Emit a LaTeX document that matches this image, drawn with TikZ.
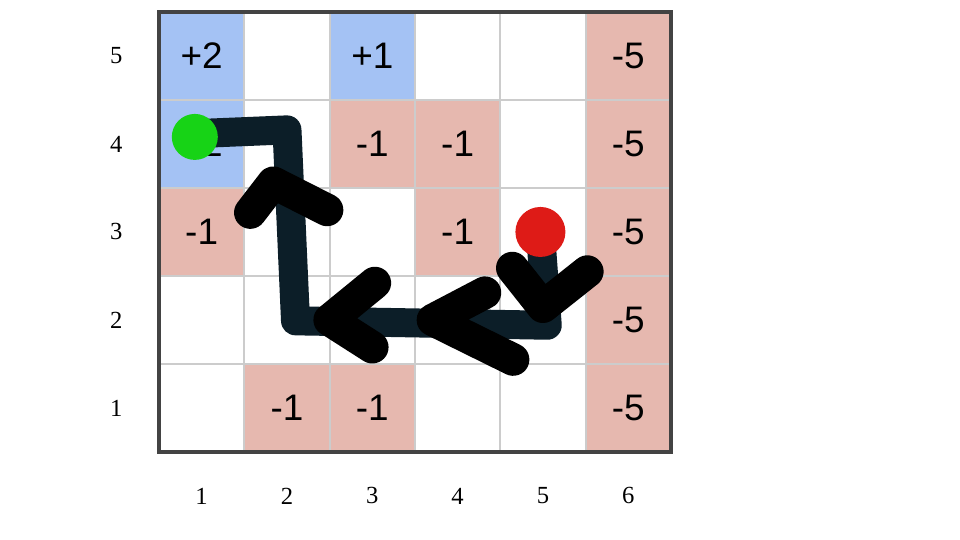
\documentclass[tikz,border=0pt]{standalone}
\usepackage{fontspec}
\setmainfont{Liberation Serif}
\newfontfamily\cellfont{Liberation Sans}
\usetikzlibrary{arrows.meta,positioning,calc}
\definecolor{goodcell}{HTML}{A4C2F4}
\definecolor{badcell}{HTML}{E6B8AF}
\definecolor{gridline}{HTML}{CCCCCC}
\definecolor{gridframe}{HTML}{434343}
\definecolor{pathink}{HTML}{0C1E28}
\definecolor{startred}{HTML}{DE1B17}
\definecolor{goalgreen}{HTML}{17D316}
\tikzset{
  cellbox/.style={minimum width=1.7067cm,minimum height=1.76cm,inner sep=0pt,
    font=\cellfont\fontsize{21}{25}\selectfont},
  goodbox/.style={cellbox,fill=goodcell},
  badbox/.style={cellbox,fill=badcell},
  axislabel/.style={font=\fontsize{14}{16}\selectfont},
  trajline/.style={draw=pathink,line width=16.5pt,line cap=round,line join=round},
  chevron/.style={draw=black,line width=18.5pt,line cap=round,line join=round},
  dotmark/.style={circle,inner sep=0pt,draw=none}
}

\begin{document}
\begin{tikzpicture}[x=1.7067cm,y=1.76cm]
  \fill[white] (-1.363,-0.5) rectangle (9.887,5.636);
  \useasboundingbox (-1.363,-0.5) rectangle (9.887,5.636);
  % reward cells
  \foreach \c/\r/\kind/\val in {1/5/goodbox/+2,3/5/goodbox/+1,6/5/badbox/-5,
      1/4/goodbox/+2,3/4/badbox/-1,4/4/badbox/-1,6/4/badbox/-5,
      1/3/badbox/-1,4/3/badbox/-1,6/3/badbox/-5,
      6/2/badbox/-5,
      2/1/badbox/-1,3/1/badbox/-1,6/1/badbox/-5}
    \node[\kind] (cell-\c-\r) at (\c,\r) {\val};
  % grid
  \foreach \x in {1.5,2.5,...,5.5}
    \draw[gridline,line width=1.3pt] (\x,0.5) -- (\x,5.5);
  \foreach \y in {1.5,2.5,...,4.5}
    \draw[gridline,line width=1.3pt] (0.5,\y) -- (6.5,\y);
  \draw[gridframe,line width=1.8pt] (0.5,0.5) rectangle (6.5,5.5);
  % axis numbers
  \foreach \c in {1,...,6}
    \node[axislabel] (col-\c) at (\c,0) {\c};
  \foreach \r in {1,...,5}
    \node[axislabel] (row-\r) at (0,\r) {\r};
  % trajectory
  \coordinate (startpt) at (4.97,3.0);
  \coordinate (goalpt) at (0.92,4.08);
  \draw[trajline] (startpt) -- (5.05,1.94) -- (2.1,1.99) -- (2.0,4.16) -- (1.0,4.12) -- (goalpt);
  \draw[chevron] (4.64,2.59) -- (5.0,2.15) -- (5.52,2.55);
  \draw[chevron] (4.32,2.31) -- (3.71,2.0) -- (4.65,1.55);
  \draw[chevron] (3.03,2.42) -- (2.5,2.0) -- (3.0,1.69);
  \draw[chevron] (1.57,3.22) -- (1.84,3.56) -- (2.47,3.25);
  \node[dotmark,fill=startred,minimum size=1.0cm] (start) at (startpt) {};
  \node[dotmark,fill=goalgreen,minimum size=0.92cm] (goal) at (goalpt) {};
\end{tikzpicture}
\end{document}
